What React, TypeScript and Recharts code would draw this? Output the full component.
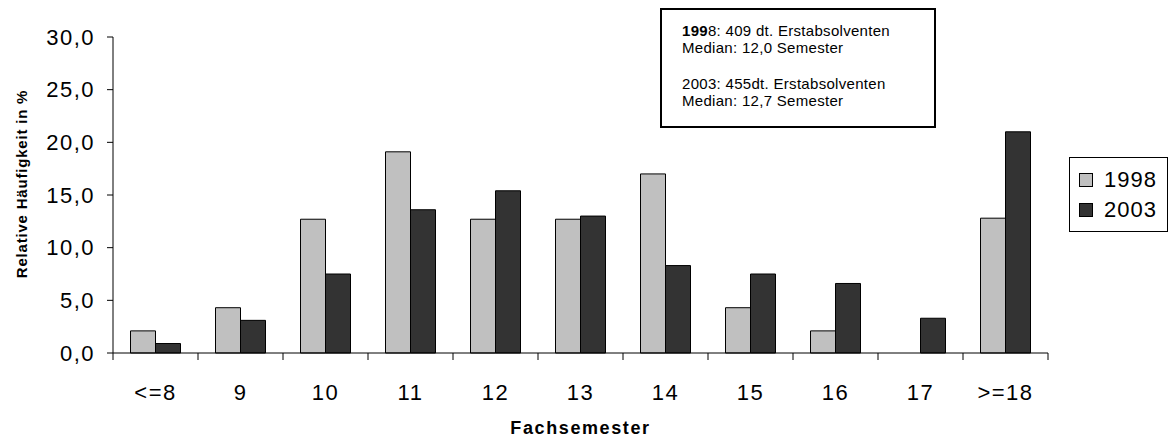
import React from 'react';
import { BarChart, Bar, XAxis, YAxis } from 'recharts';

const FONT = 'Arial, "Liberation Sans", sans-serif';
const LIGHT = '#C0C0C0';
const DARK = '#333333';

const categories = ['<=8', '9', '10', '11', '12', '13', '14', '15', '16', '17', '>=18'];
const values1998 = [2.1, 4.3, 12.7, 19.1, 12.7, 12.7, 17.0, 4.3, 2.1, 0, 12.8];
const values2003 = [0.9, 3.1, 7.5, 13.6, 15.4, 13.0, 8.3, 7.5, 6.6, 3.3, 21.0];
const yTicks = [0, 5, 10, 15, 20, 25, 30];
const seriesNames = ['1998', '2003'];

const data = categories.map((c, i) => ({ cat: c, y1998: values1998[i], y2003: values2003[i] }));

const fmt = (v: number) => v.toFixed(1).replace('.', ',');

function XTick(props: any) {
    const { x, y, payload, index } = props;
    const off = payload.offset ?? 0;
    return (
        <g>
            <line x1={x - off} x2={x - off} y1={y} y2={y + 7} stroke="#000" />
            {index === categories.length - 1 && (
                <line x1={x + off} x2={x + off} y1={y} y2={y + 7} stroke="#000" />
            )}
            <text x={x} y={y + 39} textAnchor="middle" dominantBaseline="central"
                fontSize={22} fontFamily={FONT} letterSpacing={1.5} fill="#000">
                {payload.value}
            </text>
        </g>
    );
}

function LegendBox() {
    const colors = [LIGHT, DARK];
    return (
        <div style={{
            position: 'absolute', left: 1069, top: 157,
            border: '1px solid #000', background: '#fff', width: 99, height: 75,
            boxSizing: 'border-box', padding: '7px 0 0 9px', fontFamily: FONT,
        }}>
            {seriesNames.map((n, i) => (
                <div key={n} style={{ display: 'flex', alignItems: 'center', height: 30 }}>
                    <span style={{ width: 14, height: 14, background: colors[i], border: '1px solid #000', boxSizing: 'border-box', marginRight: 11 }} />
                    <span style={{ fontSize: 22, letterSpacing: 1, color: '#000' }}>{n}</span>
                </div>
            ))}
        </div>
    );
}

export default function App() {
    return (
        <div style={{ position: 'absolute', left: 0, top: 0, width: 1172, height: 442, background: '#fff' }}>
            <BarChart width={1172} height={442} data={data}
                margin={{ top: 37, right: 124, left: 0, bottom: 0 }}
                barCategoryGap="20.6%" barGap={0}>
                <XAxis dataKey="cat" height={89} tickLine={false} tickSize={0} tickMargin={0}
                    axisLine={{ stroke: '#000' }} tick={<XTick />} interval={0}
                    label={{
                        content: (p: any) => (
                            <text x={p.viewBox.x + p.viewBox.width / 2} y={p.viewBox.y + 75}
                                textAnchor="middle" dominantBaseline="central" fontSize={18}
                                fontWeight="bold" letterSpacing={1.6} fontFamily={FONT} fill="#000">
                                Fachsemester
                            </text>
                        ),
                    }} />
                <YAxis width={113} domain={[0, 30]} ticks={yTicks} interval={0}
                    tickFormatter={fmt} axisLine={{ stroke: '#000' }} tickLine={{ stroke: '#000' }}
                    tickSize={6} tickMargin={12}
                    tick={{ fontSize: 22, fill: '#000', fontFamily: FONT, letterSpacing: 1.5 }}
                    label={{
                        content: () => {
                            const cx = 21;
                            const cy = 184;
                            return (
                                <text x={cx} y={cy} transform={`rotate(-90 ${cx} ${cy})`}
                                    textAnchor="middle" dominantBaseline="central" fontSize={15}
                                    fontWeight="bold" letterSpacing={0.8} fontFamily={FONT} fill="#000">
                                    Relative Häufigkeit in %
                                </text>
                            );
                        },
                    }} />
                <Bar dataKey="y1998" name={seriesNames[0]} fill={LIGHT} stroke="#000" strokeWidth={1} isAnimationActive={false} />
                <Bar dataKey="y2003" name={seriesNames[1]} fill={DARK} stroke="#000" strokeWidth={1} isAnimationActive={false} />
            </BarChart>
            <LegendBox />
            <div style={{
                position: 'absolute', left: 660, top: 8, width: 276, height: 120,
                border: '2px solid #000', boxSizing: 'border-box', background: '#fff',
                fontFamily: FONT, fontSize: 15, lineHeight: '17px', color: '#000',
                letterSpacing: 0.3, padding: '12px 0 0 20px',
            }}>
                <div><b>199</b>8: 409 dt. Erstabsolventen</div>
                <div>Median: 12,0 Semester</div>
                <div style={{ height: 19 }} />
                <div>2003: 455dt. Erstabsolventen</div>
                <div>Median: 12,7 Semester</div>
            </div>
        </div>
    );
}
